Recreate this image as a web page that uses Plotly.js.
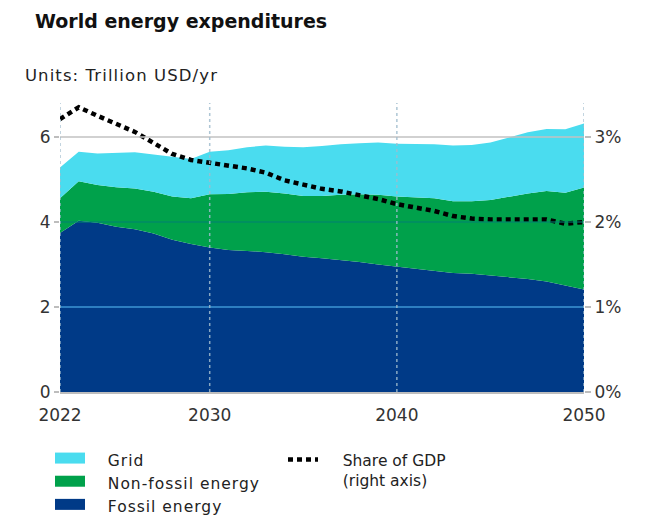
<!DOCTYPE html>
<html><head><meta charset="utf-8">
<script src="https://cdn.plot.ly/plotly-3.0.1.min.js"></script>
<style>
html,body{margin:0;padding:0;background:#fff;}
#chart{width:655px;height:518px;}
#chart .legendtext, #chart .legendtext tspan{letter-spacing:1px;}
#chart .legend .scrollbox{clip-path:none !important;}
#chart .annotation-text{letter-spacing:1.1px;}
</style>
</head><body><div id="chart"></div>
<script>
const years = [2022,2023,2024,2025,2026,2027,2028,2029,2030,2031,2032,2033,2034,2035,2036,2037,2038,2039,2040,2041,2042,2043,2044,2045,2046,2047,2048,2049,2050];
const fossil = [3.74,4.03,3.98,3.89,3.83,3.73,3.58,3.48,3.40,3.34,3.32,3.29,3.24,3.18,3.15,3.11,3.06,3.00,2.95,2.89,2.85,2.80,2.78,2.74,2.70,2.66,2.60,2.50,2.41];
const nonFossil = [0.82,0.93,0.89,0.93,0.96,0.98,1.02,1.08,1.25,1.32,1.38,1.42,1.43,1.43,1.46,1.53,1.59,1.64,1.65,1.69,1.71,1.69,1.71,1.78,1.90,2.01,2.13,2.19,2.40];
const grid = [0.72,0.69,0.74,0.81,0.85,0.88,0.94,0.92,1.00,1.03,1.06,1.09,1.10,1.15,1.18,1.19,1.20,1.23,1.24,1.26,1.27,1.31,1.32,1.35,1.39,1.44,1.46,1.49,1.51];
const gdpShare = [3.21,3.35,3.25,3.15,3.06,2.93,2.80,2.73,2.70,2.67,2.63,2.58,2.49,2.44,2.39,2.36,2.32,2.27,2.21,2.17,2.13,2.07,2.04,2.03,2.03,2.03,2.03,1.98,2.00];
const xTicks = [2022,2030,2040,2050];
const xTickLabels = ['2022','2030','2040','2050'];
const yTicks = [0,2,4,6];
const yTickLabels = ['0','2','4','6'];
const y2Ticks = [0,1,2,3];
const y2TickLabels = ['0%','1%','2%','3%'];
const names = {grid:'Grid', nonFossil:'Non-fossil energy', fossil:'Fossil energy', gdp:['Share of GDP','(right axis)']};

const C = {grid:'#4adcef', nonFossil:'#00a14b', fossil:'#003a87'};
const FONT = '"DejaVu Sans", "Open Sans", sans-serif';
const pad = '\u00a0\u00a0\u00a0';
const pad2 = '\u00a0\u00a0\u00a0\u00a0';

function area(y, key){
  return {x: years, y: y, name: names[key], type:'scatter', mode:'lines', stackgroup:'e',
    line:{width:0, color:C[key]}, fillcolor:C[key], showlegend:false, hoverinfo:'x+y'};
}
function legendSwatch(key){
  return {x:[null], y:[null], name: pad + names[key], type:'scatter', mode:'lines', fill:'toself',
    fillcolor:C[key], line:{width:10, color:C[key]}, legend:'legend', hoverinfo:'skip'};
}

const traces = [
  area(fossil,'fossil'), area(nonFossil,'nonFossil'), area(grid,'grid'),
  {x: years, y: gdpShare, name: names.gdp.map(s => pad2 + s).join('<br>'), type:'scatter', mode:'lines', yaxis:'y2',
   line:{color:'#000', width:4.5, dash:'5px,4px'}, legend:'legend2'},
  legendSwatch('grid'), legendSwatch('nonFossil'), legendSwatch('fossil')
];

const hColors = {2:'rgba(70,165,225,0.85)', 4:'rgba(0,130,115,0.7)', 6:'#c2c2c2'};
const shapes = [];
yTicks.filter(v => v > 0).forEach(v => shapes.push({type:'line', layer:'above', xref:'paper', x0:0, x1:1, yref:'y', y0:v, y1:v,
  line:{color:hColors[v], width:1.5}}));
xTicks.forEach(v => shapes.push({type:'line', layer:'above', xref:'x', x0:v, x1:v, yref:'paper', y0:0, y1:1,
  line:{color:'rgba(160,188,206,0.85)', width:1.5, dash:'dot'}}));

const legendTop = 1 - 443/518;
const layout = {
  width:655, height:518,
  margin:{l:60, r:71, t:103, b:126},
  paper_bgcolor:'#fff', plot_bgcolor:'#fff',
  font:{family:FONT, color:'#222', size:16},
  title:{text:'<b>World energy expenditures</b>', xref:'container', x:35/655, xanchor:'left',
    yref:'container', y:1-21/518, yanchor:'middle', font:{family:FONT, size:19, color:'#111'}},
  annotations:[{text:'Units: Trillion USD/yr', xref:'paper', yref:'paper', x:(35-60)/524, y:(392-75)/289,
    xanchor:'left', yanchor:'middle', showarrow:false, font:{family:FONT, size:16.5, color:'#222'}}],
  xaxis:{range:[2022,2050], tickvals:xTicks, ticktext:xTickLabels, showgrid:false, zeroline:false,
    showline:true, linecolor:'#bdbdbd', linewidth:1.5, ticks:'', ticklabelstandoff:7,
    tickfont:{size:17, color:'#333'}, fixedrange:true},
  yaxis:{range:[0,6.8], tickvals:yTicks, ticktext:yTickLabels, showgrid:false, zeroline:false, showline:false,
    ticks:'outside', ticklen:5, tickcolor:'#bdbdbd', tickwidth:1.5, tickfont:{size:17, color:'#333'}, fixedrange:true},
  yaxis2:{range:[0,3.4], overlaying:'y', side:'right', tickvals:y2Ticks, ticktext:y2TickLabels, showgrid:false,
    zeroline:false, showline:false, ticks:'outside', ticklen:6, tickcolor:'#bdbdbd', tickwidth:1.5,
    tickfont:{size:17, color:'#333'}, fixedrange:true},
  legend:{xref:'paper', yref:'container', x:(50-60)/524, y:legendTop, xanchor:'left', yanchor:'top', orientation:'v', traceorder:'normal',
    bgcolor:'rgba(0,0,0,0)', font:{family:FONT, size:15.5, color:'#222'}, tracegroupgap:0, itemclick:false, itemdoubleclick:false},
  legend2:{xref:'paper', yref:'container', x:(283-60)/524, y:legendTop, xanchor:'left', yanchor:'top', valign:'top',
    bgcolor:'rgba(0,0,0,0)', font:{family:FONT, size:15.5, color:'#222'}, itemclick:false, itemdoubleclick:false},
  shapes: shapes,
  showlegend:true,
  hovermode:false
};

Plotly.newPlot('chart', traces, layout, {displayModeBar:false, staticPlot:true});
</script>
</body></html>
